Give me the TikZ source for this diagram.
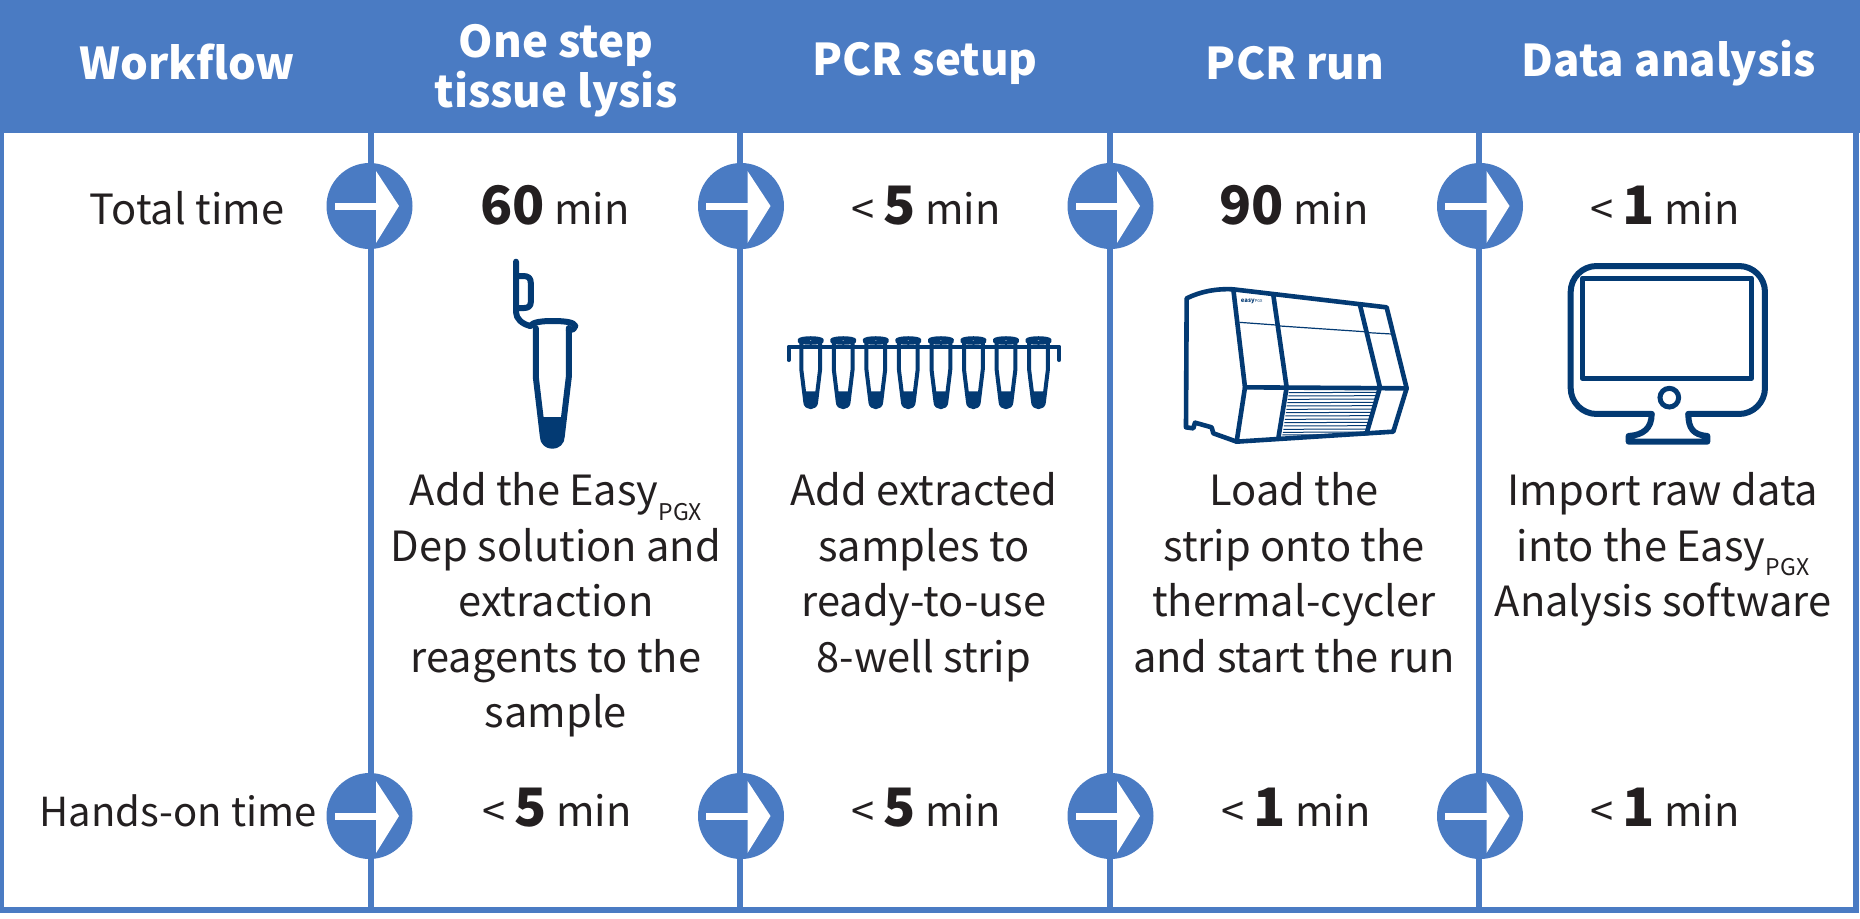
\documentclass[tikz,border=0pt]{standalone}
\usepackage{fontspec}
\setmainfont{Noto Sans CJK JP}
\usepackage{tikz}
\definecolor{headblue}{HTML}{4A7BC3}
\definecolor{navy}{HTML}{033A73}
\definecolor{inktext}{HTML}{231F20}
\tikzset{
	headtext/.style={text=white, font=\fontsize{21.9}{24.8}\selectfont\bfseries, align=center, anchor=center, inner sep=0pt},
	timetext/.style={text=inktext, font=\fontsize{20.8}{24}\selectfont, anchor=base, inner sep=0pt},
	bodytext/.style={text=inktext, font=\fontsize{20.8}{27.8}\selectfont, align=center, anchor=north, inner sep=0pt},
	iconline/.style={draw=navy, line width=3pt, line join=round, line cap=round},
	iconthin/.style={draw=navy, line width=2pt, line join=round, line cap=round},
	cyclerline/.style={draw=navy, line width=2.3pt, line join=round, line cap=round},
	rule/.style={draw=headblue, line width=3pt}
}
\def\bignum#1{{\fontsize{26.5}{26.5}\selectfont\bfseries #1}}
\def\pgxsub{\raisebox{-0.35em}{\fontsize{11.5}{12}\selectfont PGX}}
\def\flowarrow(#1,#2){
	\fill[headblue] (#1,#2) circle (43);
	\fill[white] (#1-35,#2-3.5) rectangle (#1+7,#2+3.5);
	\fill[white] (#1+6.5,#2-35) -- (#1+29.5,#2) -- (#1+6.5,#2+37) -- cycle;
}
\def\stripwell(#1){
	\begin{scope}[shift={(#1,340.7)}, xscale=0.57, yscale=0.55]
		\fill[navy] (-14,92) -- (14,92) -- (9.5,111) .. controls (9.5,124) and (-9.5,124) .. (-9.5,111) -- cycle;
		\draw[iconthin] (-16.5,3) -- (-16.5,52) -- (-9.5,111) .. controls (-9.5,124) and (9.5,124) .. (9.5,111) -- (16.5,52) -- (16.5,3);
		\draw[iconthin] (-20,0) .. controls (-20,-6) and (20,-6) .. (20,0) .. controls (20,5) and (-20,5) .. (-20,0) -- cycle;
	\end{scope}
}

\begin{document}
\begin{tikzpicture}[x=0.5pt,y=-0.5pt]
	\useasboundingbox (0,0) rectangle (1860,918);
	\fill[white] (0,0) rectangle (1860,918);
	\fill[headblue] (0,0) rectangle (1860,133);

	% frame and column rules
	\draw[rule] (1,133) -- (1,910) -- (1855.5,910) -- (1855.5,133);
	\draw[rule] (371,133) -- (371,910);
	\draw[rule] (740,133) -- (740,910);
	\draw[rule] (1110,133) -- (1110,910);
	\draw[rule] (1479,133) -- (1479,910);

	\node[headtext] (workflow) at (187,62) {Workflow};
	\node[headtext] (lysis) at (556,70.5) {One step\\tissue lysis};
	\node[headtext] (setup) at (925,63) {PCR setup};
	\node[headtext] (run) at (1295,63) {PCR run};
	\node[headtext] (analysis) at (1669,63) {Data analysis};

	\flowarrow(369.5,206)
	\flowarrow(741,206)
	\flowarrow(1110.5,206)
	\flowarrow(1480,206)
	\flowarrow(369.5,816)
	\flowarrow(741,816)
	\flowarrow(1110.5,816)
	\flowarrow(1480,816)

	\node[timetext] (totallabel) at (187,224) {Total time};
	\node[timetext] (totallysis) at (555,224) {\bignum{60} min};
	\node[timetext] (totalsetup) at (926,224) {< \bignum{5} min};
	\node[timetext] (totalrun) at (1294,224) {\bignum{90} min};
	\node[timetext] (totalanalysis) at (1665,224) {< \bignum{1} min};

	\node[timetext, font=\fontsize{20}{24}\selectfont] (handslabel) at (178,826.7) {Hands-on time};
	\node[timetext] (handslysis) at (557,826.7) {< \bignum{5} min};
	\node[timetext] (handssetup) at (926,826.7) {< \bignum{5} min};
	\node[timetext] (handsrun) at (1296,826.7) {< \bignum{1} min};
	\node[timetext] (handsanalysis) at (1665,826.7) {< \bignum{1} min};

	\node[bodytext] (lysisbody) at (556,472) {Add the Easy\pgxsub\\Dep solution and\\extraction\\reagents to the\\sample};
	\node[bodytext] (setupbody) at (924,472) {Add extracted\\samples to\\ready-to-use\\8-well strip};
	\node[bodytext] (runbody) at (1294,472) {Load the\\strip onto the\\thermal-cycler\\and start the run};
	\node[bodytext] (analysisbody) at (1663,472) {Import raw data\\into the Easy\pgxsub\\Analysis software};

	% single tube
	\begin{scope}[shift={(552.3,325)}]
		\fill[navy] (-14,92) -- (14,92) -- (9.5,111) .. controls (9.5,124) and (-9.5,124) .. (-9.5,111) -- cycle;
		\draw[iconline] (-16.5,3) -- (-16.5,52) -- (-9.5,111) .. controls (-9.5,124) and (9.5,124) .. (9.5,111) -- (16.5,52) -- (16.5,3);
		\draw[iconline] (-36.3,-63.3) -- (-36.3,-13) .. controls (-36.3,-6) and (-30,-1) .. (-22,1);
		\draw[iconline] (-36.3,-49) -- (-29,-49) .. controls (-24,-49) and (-21.5,-47) .. (-21.5,-42) -- (-21.5,-23) .. controls (-21.5,-19) and (-24,-17) .. (-28,-17) -- (-36.3,-17);
		\draw[iconline] (-22,1) .. controls (-20,-3) and (-10,-4) .. (0,-4) .. controls (12,-4) and (22,-3) .. (23,1) .. controls (23,4) and (20,5) .. (16.5,5);
	\end{scope}

	% strip of wells
	\draw[iconthin] (788.7,360) -- (788.7,346.7) -- (1059.3,346.7) -- (1059.3,360);
	\stripwell(810.7)
	\stripwell(843.2)
	\stripwell(875.8)
	\stripwell(908.3)
	\stripwell(940.9)
	\stripwell(973.4)
	\stripwell(1006)
	\stripwell(1038.5)

	% thermal cycler
	\begin{scope}[shift={(1160,270)}, scale=0.3333]
		\draw[cyclerline] (80,85) .. controls (120,65) and (170,55) .. (220,58) -- (680,112) -- (740,355) -- (700,485) -- (230,515) -- (160,490) -- (155,472) -- (105,458) -- (100,475) -- (78,472) -- cycle;
		\draw[cyclerline] (220,58) -- (255,352) -- (230,515);
		\draw[cyclerline] (340,75) -- (380,352) -- (355,505);
		\draw[cyclerline] (600,105) -- (660,352) -- (620,490);
		\draw[cyclerline] (255,352) -- (740,355);
		\draw[draw=navy, line width=0.6pt] (238,157) -- (348,165);
		\draw[draw=navy, line width=0.6pt] (360,168) -- (612,185);
		\draw[draw=navy, line width=0.6pt] (625,188) -- (695,192);
		\foreach \vy/\vl/\vr in {368/386/650,378/385/648,388/383/646,398/382/644,408/380/642,418/379/640,428/378/638,438/376/636,448/375/633,458/373/631,468/372/629,478/370/627,487/369/625,495/367/620}
			\draw[draw=navy, line width=0.5pt] (\vl,\vy) -- (\vr,\vy-1);
		\node[text=navy, inner sep=0pt, font=\fontsize{3}{4}\selectfont\bfseries] (logo) at (275,94) {easy\textmd{\fontsize{2}{3}\selectfont PGX}};
	\end{scope}

	% monitor
	\begin{scope}[shift={(1550,250)}, scale=0.3333]
		\draw[iconline, rounded corners=13pt] (305,492) -- (62,492) -- (62,48) -- (645,48) -- (645,492) -- (415,492);
		\draw[draw=navy, line width=2.5pt, line join=round] (97,84) rectangle (605,385);
		\draw[draw=navy, line width=2.5pt] (358,443) circle (28);
		\draw[iconline] (305,492) .. controls (305,535) and (280,555) .. (236,558) -- (236,575) -- (472,575) -- (472,558) .. controls (430,555) and (415,535) .. (415,492);
	\end{scope}
\end{tikzpicture}
\end{document}
